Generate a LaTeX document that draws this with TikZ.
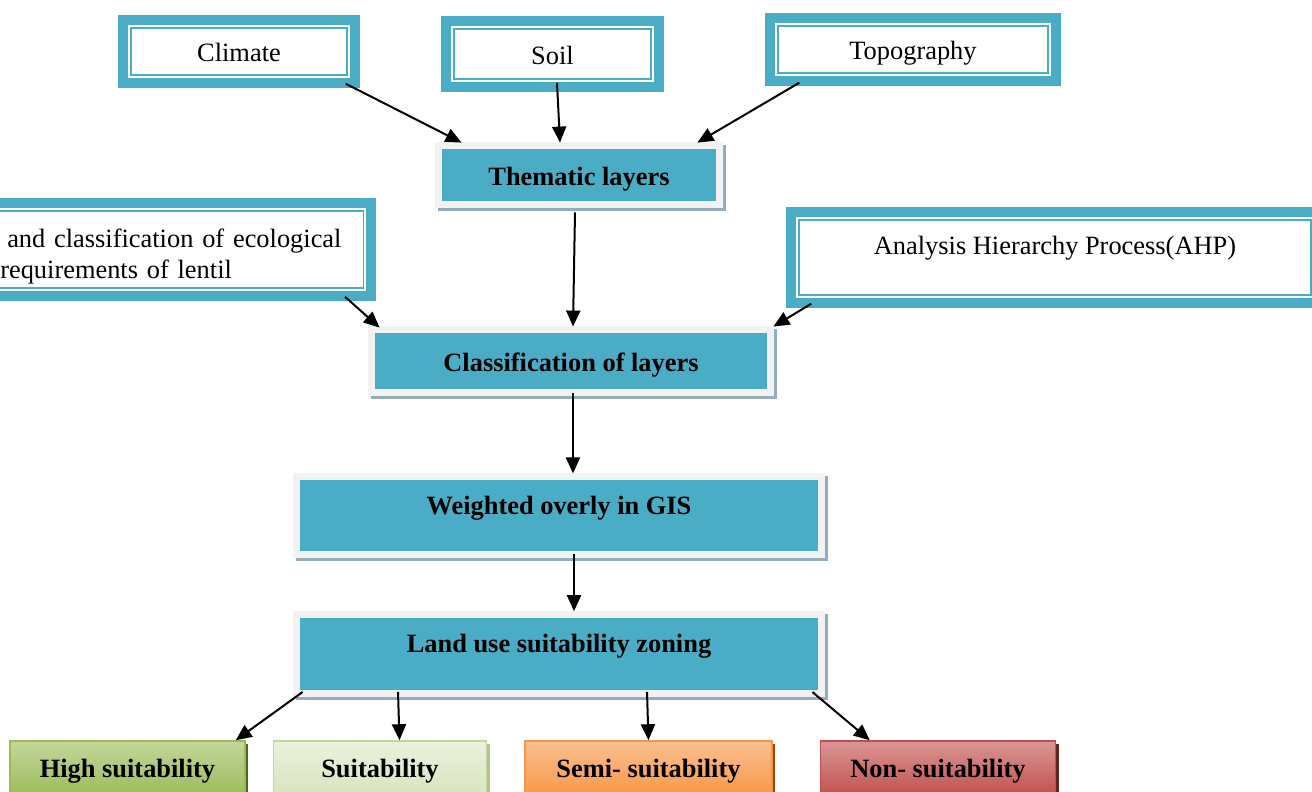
\documentclass[tikz,border=0pt]{standalone}
\usepackage{fontspec}
\setmainfont{Liberation Serif}
\usetikzlibrary{arrows.meta,positioning}
\definecolor{boxTeal}{HTML}{4BACC6}
\definecolor{boxBlue}{HTML}{4BACC6}
\definecolor{frameGray}{HTML}{F2F2F2}
\definecolor{shadowBlue}{HTML}{93AEBA}
\definecolor{highTop}{HTML}{C3D69B}
\definecolor{highMid}{HTML}{9BBB59}
\definecolor{highShade}{HTML}{4F6228}
\definecolor{suitTop}{HTML}{EBF1DE}
\definecolor{suitMid}{HTML}{D7E4BD}
\definecolor{suitLine}{HTML}{C3D69B}
\definecolor{suitShade}{HTML}{B5C291}
\definecolor{semiTop}{HTML}{FAC090}
\definecolor{semiMid}{HTML}{F79646}
\definecolor{semiShade}{HTML}{984807}
\definecolor{nonTop}{HTML}{D99694}
\definecolor{nonMid}{HTML}{C0504D}
\definecolor{nonShade}{HTML}{632523}
\newcommand{\boxfont}{\fontsize{13.2}{15.5}\selectfont}
\tikzset{
  tealBox/.style={draw=boxTeal, line width=0.75pt, fill=white,
    preaction={draw=boxTeal, line width=12.8pt},
    preaction={draw=white, line width=2.75pt},
    font=\boxfont, text=black},
  blueBox/.style={fill=boxBlue, font=\boxfont\bfseries, text=black,
    text height=12pt, text depth=1.5pt,
    preaction={draw=shadowBlue, fill=shadowBlue, line width=7pt,
      transform canvas={shift={(1.5pt,-1.5pt)}}},
    preaction={draw=frameGray, line width=7pt}},
  zoneBox/.style n args={4}{top color=#1, bottom color=#2, draw=#3,
    line width=0.75pt, font=\boxfont\bfseries, text=black,
    minimum height=28pt, text height=10.2pt, text depth=1.5pt,
    preaction={fill=#4, transform canvas={shift={(1.5pt,-1.5pt)}}}},
  arr/.style={-{Triangle[length=8pt,width=7pt]}, line width=1pt},
}

\begin{document}
\begin{tikzpicture}[x=0.5pt, y=-0.5pt]
  \useasboundingbox (0,0) rectangle (1312,792);
  \clip (0,0) rectangle (1312,792);
  \fill[white] (0,0) rectangle (1312,792);
  % input factors
  \node[tealBox, minimum width=108pt, minimum height=23.5pt, text height=12pt, text depth=1.5pt] (clim) at (239,51.5) {Climate};
  \node[tealBox, minimum width=98.5pt, minimum height=25pt, text height=12pt, text depth=1.5pt] (soil) at (552.5,54) {Soil};
  \node[tealBox, minimum width=135pt, minimum height=23.5pt, text height=12pt, text depth=1.5pt] (topo) at (913,49.5) {Topography};
  \node[blueBox, minimum width=137pt, minimum height=26pt] (them) at (579,175) {Thematic layers};
  \node[tealBox, anchor=east, text width=177.5pt, align=left, inner xsep=4pt, inner ysep=1pt,
    minimum height=38.5pt] (eco) at (364,249.5)
    {\rule{0pt}{16pt}\hspace*{3.5pt}and classification of ecological\\requirements of lentil};
  \node[tealBox, minimum width=256pt, minimum height=37.5pt, text height=12pt, text depth=14.8pt] (ahp) at (1055,257.5)
    {Analysis Hierarchy Process(AHP)};
  % main column
  \node[blueBox, minimum width=196pt, minimum height=28pt] (cls) at (571,361) {Classification of layers};
  \node[blueBox, minimum width=259pt, minimum height=35.5pt, text depth=12.8pt,
    below=45pt of cls, xshift=-6pt] (wov) {Weighted overly in GIS};
  \node[blueBox, minimum width=259pt, minimum height=36pt, text depth=13.3pt,
    below=33pt of wov] (land) {Land use suitability zoning};
  % zones
  \node[zoneBox={highTop}{highMid}{highMid}{highShade}, minimum width=117.5pt] (high) at (127.5,769) {High suitability};
  \node[zoneBox={suitTop}{suitMid}{suitLine}{suitShade}, minimum width=106.5pt, right=13.5pt of high] (suit) {Suitability};
  \node[zoneBox={semiTop}{semiMid}{semiMid}{semiShade}, minimum width=123.5pt, right=18.5pt of suit] (semi) {Semi- suitability};
  \node[zoneBox={nonTop}{nonMid}{nonMid}{nonShade}, minimum width=117.5pt, right=23.5pt of semi] (non) {Non- suitability};
  % connectors
  \draw[arr] ([shift={(-1pt,-4pt)}]clim.south east) -- ([shift={(10pt,3pt)}]them.north west);
  \draw[arr] ([shift={(2.25pt,-1.5pt)}]soil.south) -- ([shift={(-9.5pt,3pt)}]them.north);
  \draw[arr] ([shift={(11pt,-4.5pt)}]topo.south west) -- ([shift={(-9.5pt,3pt)}]them.north east);
  \draw[arr] ([shift={(-2pt,-5.5pt)}]them.south) -- ([shift={(1pt,3pt)}]cls.north);
  \draw[arr] ([shift={(-9.5pt,-4pt)}]eco.south east) -- ([shift={(2.5pt,2.5pt)}]cls.north west);
  \draw[arr] ([shift={(6.5pt,-4pt)}]ahp.south west) -- ([shift={(3pt,3pt)}]cls.north east);
  \draw[arr] ([shift={(1pt,-2pt)}]cls.south) -- ([shift={(7pt,3pt)}]wov.north);
  \draw[arr] ([shift={(7.5pt,-1.5pt)}]wov.south) -- ([shift={(7.5pt,3pt)}]land.north);
  \draw[arr] ([shift={(1.5pt,-1pt)}]land.south west) -- ([xshift=-5pt]high.north east);
  \draw[arr] ([shift={(-80.5pt,-1pt)}]land.south) -- ([xshift=9.75pt]suit.north);
  \draw[arr] ([shift={(44pt,-1pt)}]land.south) -- (semi.north);
  \draw[arr] ([shift={(-3pt,-1pt)}]land.south east) -- ([xshift=25pt]non.north west);
\end{tikzpicture}
\end{document}
